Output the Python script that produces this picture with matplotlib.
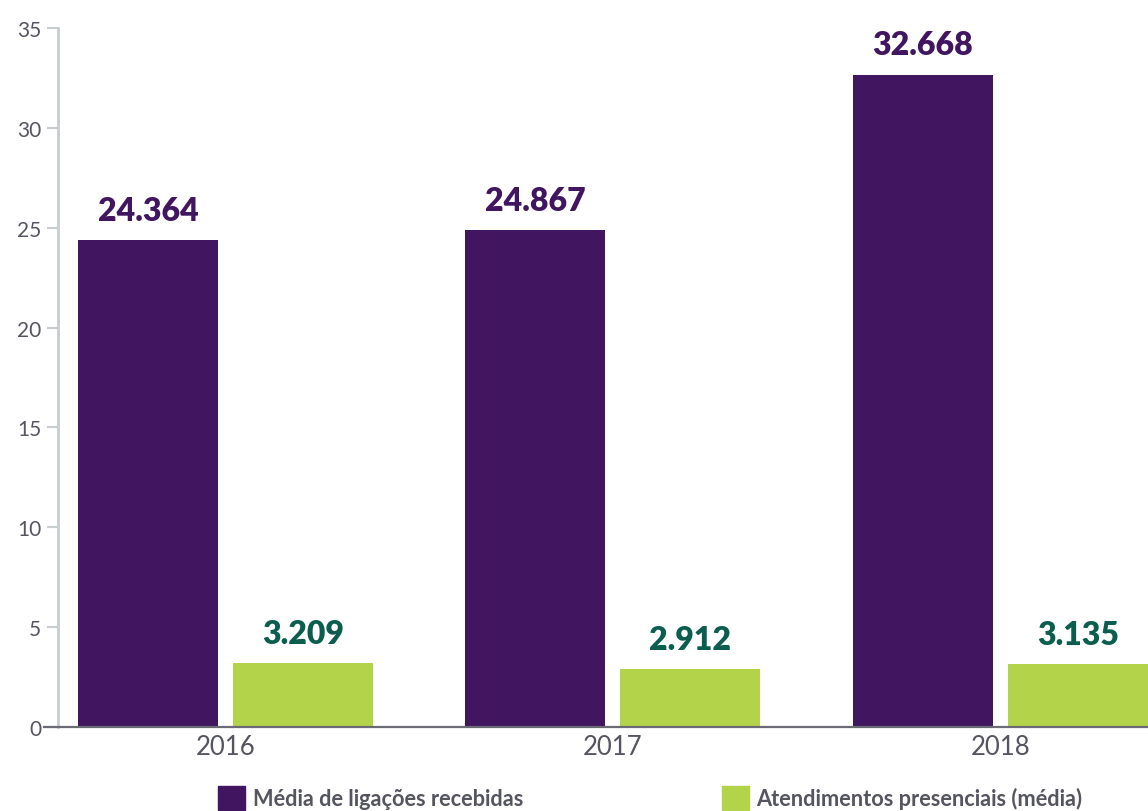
import matplotlib
matplotlib.use("Agg")
import matplotlib.pyplot as plt
import numpy as np
from matplotlib.patches import Patch

years = ["2016", "2017", "2018"]
ligacoes = [24.364, 24.867, 32.668]
presenciais = [3.209, 2.912, 3.135]
series_names = ["Média de ligações recebidas", "Atendimentos presenciais (média)"]
yticks = [0, 5, 10, 15, 20, 25, 30, 35]

purple = "#41155f"
green = "#b2d34a"
green_text = "#0b5e4e"
gray_text = "#555560"

W, H = 1148, 812
fig = plt.figure(figsize=(W / 100, H / 100), dpi=100)
ax = fig.add_axes([58 / W, 1 - 728 / H, 1 - 58 / W, (728 - 29) / H])

x = np.arange(len(years))
bw = 0.361
off = 0.2
ax.bar(x - off, ligacoes, bw, color=purple, label=series_names[0])
ax.bar(x + off, presenciais, bw, color=green, label=series_names[1])

for xi, v in zip(x - off, ligacoes):
    ax.annotate(f"{v:.3f}", (xi, v), xytext=(0, 11), textcoords="offset points",
                ha="center", va="bottom", fontsize=23, fontweight="heavy",
                color=purple, family="Lato")
for xi, v in zip(x + off, presenciais):
    ax.annotate(f"{v:.3f}", (xi, v), xytext=(0, 11), textcoords="offset points",
                ha="center", va="bottom", fontsize=23, fontweight="heavy",
                color=green_text, family="Lato")

ax.set_xlim(-0.432, 2.381)
ax.set_ylim(0, 35)
ax.set_yticks(yticks)
ax.set_xticks(x)
ax.set_xticklabels(years)

for s in ["top", "right", "bottom"]:
    ax.spines[s].set_visible(False)
ax.spines["left"].set_color("#c8cdd0")
ax.spines["left"].set_linewidth(2)

ax.plot([-0.013, 1], [0, 0], transform=ax.get_yaxis_transform(), color="#6b6b75",
        lw=1.6, clip_on=False, zorder=5)

ax.tick_params(axis="y", length=8, width=1.5, color="#c8cdd0", labelsize=15,
               labelcolor=gray_text, pad=4)
ax.tick_params(axis="x", length=0, labelsize=18.5, labelcolor=gray_text, pad=5)
for lab in ax.get_yticklabels() + ax.get_xticklabels():
    lab.set_family("Lato")

handles = [Patch(color=purple, label=series_names[0]), Patch(color=green, label=series_names[1])]
leg = fig.legend(handles=handles, loc="center left", bbox_to_anchor=(218 / W, 1 - 799 / H),
                 ncol=2, frameon=False, handlelength=1.25, handleheight=1.25,
                 handletextpad=0.35, columnspacing=9.1, borderaxespad=0, borderpad=0,
                 prop={"family": "Lato", "weight": "bold", "size": 15.7})
for t in leg.get_texts():
    t.set_color(gray_text)

fig.savefig("out.png", dpi=100)
